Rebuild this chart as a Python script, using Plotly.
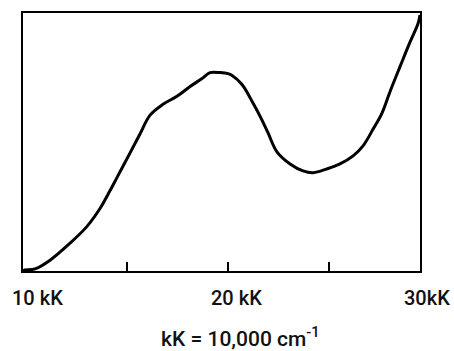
import plotly.graph_objects as go

# Wavenumber (kK) and relative absorbance
wavenumber_kk = [9.85, 9.95, 10.44, 11.19, 12.18, 13.02, 13.66, 14.16, 14.50, 15.15,
                 15.64, 16.14, 16.78, 17.47, 18.12, 18.71, 19.11, 19.60, 20.00, 20.20,
                 20.69, 21.24, 21.68, 21.98, 22.42, 23.07, 23.71, 24.21, 24.90, 25.54,
                 26.19, 26.68, 27.18, 27.62, 28.02, 28.51, 29.01, 29.40, 29.50]
absorbance = [0.0, 0.004, 0.008, 0.042, 0.108, 0.173, 0.242, 0.312, 0.362, 0.458,
              0.531, 0.604, 0.646, 0.677, 0.715, 0.746, 0.769, 0.769, 0.765, 0.758,
              0.723, 0.650, 0.585, 0.535, 0.462, 0.415, 0.388, 0.381, 0.396, 0.415,
              0.446, 0.485, 0.550, 0.612, 0.696, 0.792, 0.888, 0.958, 0.992]

x_range = [9.85, 29.5]
tick_positions = [15, 20, 25]
label_positions = [10, 20, 30]
label_texts = ["10 kK", "20 kK", "30kK"]
label_xshift = [11, 8, -3]
axis_title = "kK = 10,000 cm<sup>-1</sup>"

FONT = "Roboto"
TXT = "#111111"

fig = go.Figure()
fig.add_trace(go.Scatter(
    x=wavenumber_kk, y=absorbance, mode="lines",
    line=dict(color="black", width=3, shape="spline", smoothing=1.0),
    showlegend=False, hoverinfo="skip",
))

span = x_range[1] - x_range[0]
annotations = []
for xv, t, sh in zip(label_positions, label_texts, label_xshift):
    annotations.append(dict(
        x=(xv - x_range[0]) / span, xref="paper", y=0, yref="paper", text=t,
        showarrow=False, xanchor="center", yanchor="middle", xshift=sh, yshift=-27,
        font=dict(family=FONT, size=20, color=TXT, weight=500),
    ))
annotations.append(dict(
    x=0.549, xref="paper", y=0, yref="paper", text=axis_title, showarrow=False,
    xanchor="center", yanchor="middle", yshift=-66,
    font=dict(family=FONT, size=21, color=TXT, weight=500),
))

fig.update_layout(
    width=454, height=351,
    margin=dict(l=23, r=34, t=11, b=80),
    paper_bgcolor="white", plot_bgcolor="white",
    xaxis=dict(range=x_range, showgrid=False, zeroline=False,
               showline=True, mirror=True, linecolor="black", linewidth=2,
               tickvals=tick_positions, ticks="inside", ticklen=9, tickwidth=2,
               tickcolor="black", showticklabels=False),
    yaxis=dict(range=[0, 1], showgrid=False, zeroline=False,
               showline=True, mirror=True, linecolor="black", linewidth=2,
               ticks="", showticklabels=False),
    annotations=annotations,
)

fig.write_html("out.html")
